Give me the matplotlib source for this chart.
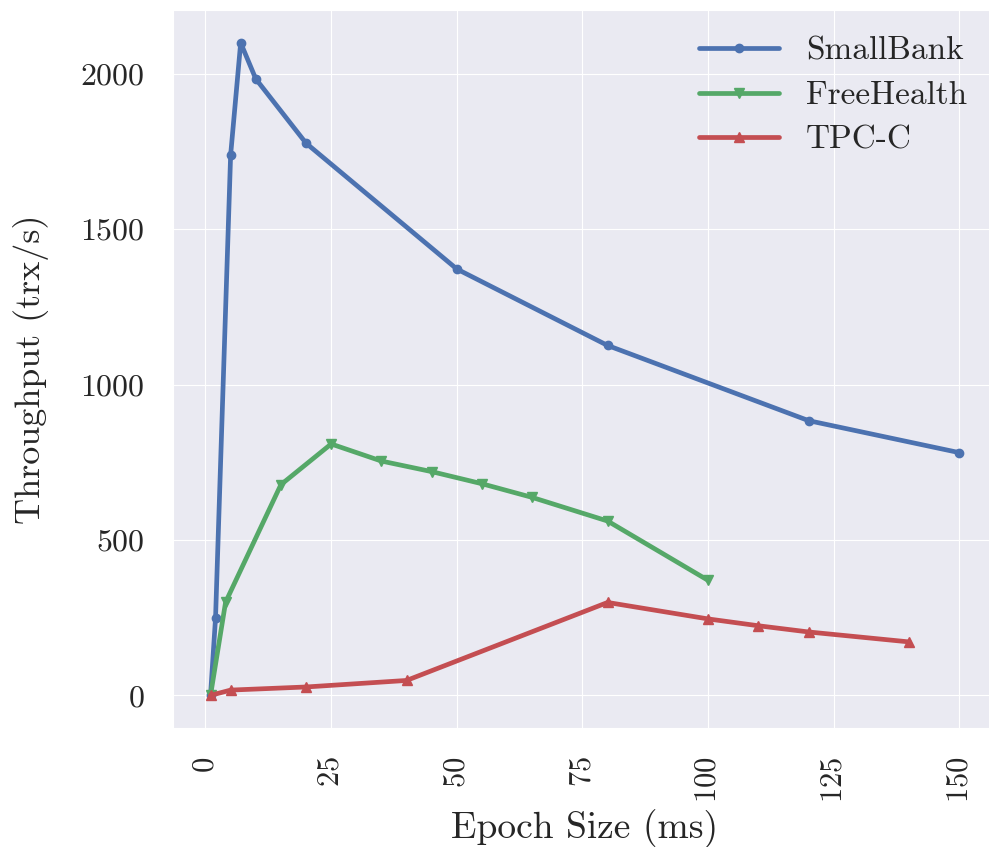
import matplotlib
matplotlib.use('Agg')
import matplotlib.pyplot as plt
import seaborn as sns

sns.set_style('darkgrid')
plt.rcParams['font.family'] = 'serif'
plt.rcParams['font.serif'] = ['cmr10']
plt.rcParams['mathtext.fontset'] = 'cm'
plt.rcParams['axes.formatter.use_mathtext'] = True

sb_x = [1, 2, 5, 7, 10, 20, 50, 80, 120, 150]
sb_y = [0, 250, 1739, 2100, 1984, 1777, 1372, 1126, 884, 781]

fh_x = [1, 4, 15, 25, 35, 45, 55, 65, 80, 100]
fh_y = [0, 300, 678, 809, 754, 720, 681, 637, 561, 370]

tp_x = [1, 5, 20, 40, 80, 100, 110, 120, 140]
tp_y = [0, 17, 27, 48, 299, 246, 224, 204, 172]

fig = plt.figure(figsize=(9.89, 8.47), dpi=100)
ax = fig.add_axes([0.175, 0.1405, 0.833, 0.8475])

ax.plot(sb_x, sb_y, marker='o', markersize=6, linewidth=3.4, color='#4C72B0', label='SmallBank')
ax.plot(fh_x, fh_y, marker='v', markersize=7, linewidth=3.4, color='#55A868', label='FreeHealth')
ax.plot(tp_x, tp_y, marker='^', markersize=7, linewidth=3.4, color='#C44E52', label='TPC-C')

ax.set_xticks([0, 25, 50, 75, 100, 125, 150])
ax.set_yticks([0, 500, 1000, 1500, 2000])
ax.tick_params(axis='x', labelrotation=90, labelsize=22, pad=17)
ax.tick_params(axis='y', labelsize=23, pad=17)
ax.set_xlabel('Epoch Size (ms)', fontsize=27, labelpad=4)
ax.set_ylabel('Throughput (trx/s)', fontsize=26, labelpad=22)

ax.legend(loc='upper right', frameon=False, fontsize=24, handlelength=2.4,
          labelspacing=0.45, bbox_to_anchor=(1.0, 1.005))

fig.savefig('out.png')
